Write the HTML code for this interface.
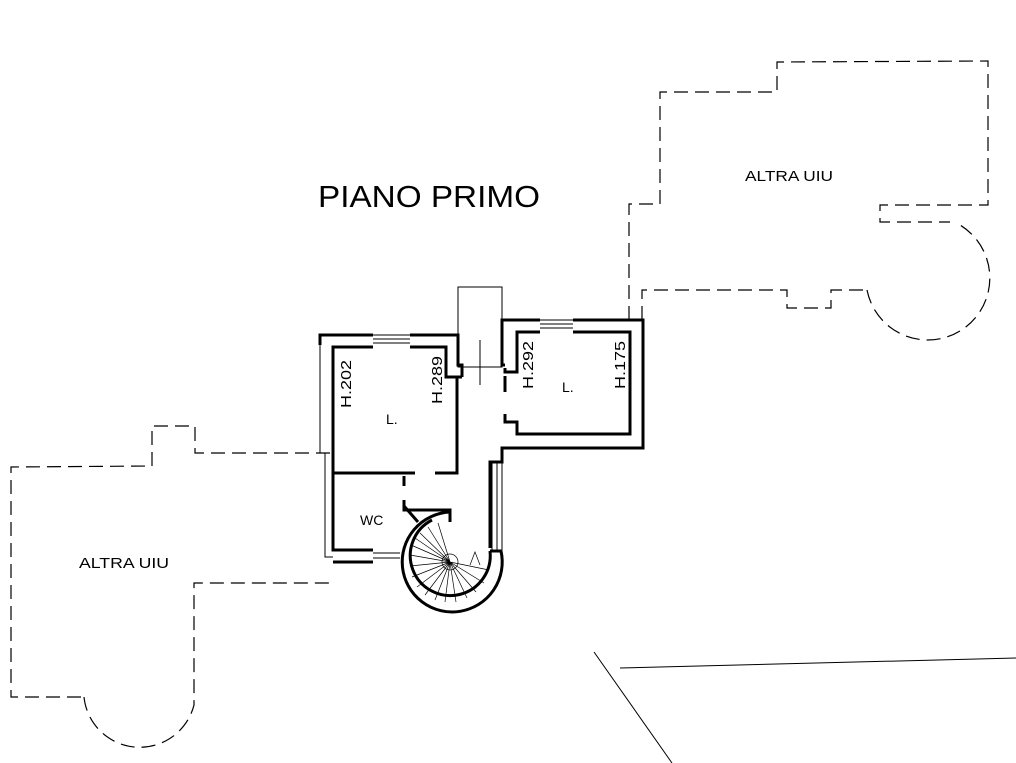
<!DOCTYPE html>
<html><head><style>
html,body{margin:0;padding:0;background:#fff;}
svg{display:block;}
text{font-family:"Liberation Sans",sans-serif;fill:#000;}
</style></head><body>
<svg width="1016" height="763" viewBox="0 0 1016 763" xmlns="http://www.w3.org/2000/svg">
<g fill="none" stroke="#000" stroke-width="1.2" stroke-dasharray="14,7">
<path d="M330,453 L195,453 L195,426 L152,426 L152,466 L11,467 L11,697 L84,697"/>
<path d="M84,697 A56,56 0 0 0 194,705 L194,583 L331,583"/>
<path d="M629,320 L629,204 L660,204 L660,92 L777,92 L777,62 L988,61 L988,205 L880,205 L880,222 L950,222"/>
<path d="M642,320 L642,290 L787,290 L787,308 L831,308 L831,290 L867,290"/>
<path d="M867,290 A62,62 0 1 0 960,225"/>
</g>
<g fill="none" stroke="#000" stroke-width="1">
<path d="M594,652 L672,763"/>
<path d="M620,668 L1016,658"/>
<rect x="458" y="287" width="44" height="80"/>
<line x1="480" y1="340" x2="480" y2="385"/>
<path d="M320,335 L320,453 L325,453 L325,557 L333,557"/>
<path d="M373,335 L410,335 M373,339 L410,339 M373,343 L410,343"/>
<path d="M540,320 L573,320 M540,324 L573,324 M540,328 L573,328"/>
<path d="M373,553 L400,553 M373,558 L400,558"/>
<path d="M492,462 L492,550 M497,462 L497,550 M502,462 L502,550"/>
</g>
<g fill="none" stroke="#000" stroke-width="3" stroke-linejoin="miter">
<path d="M373,335 L320,335 L320,345"/>
<path d="M410,335 L458,335 L458,365 L462,365 L462,377"/>
<path d="M373,347 L333,347 L333,550 L373,550"/>
<path d="M333,562 L373,562"/>
<path d="M410,347 L446,347 L446,377 L462,377"/>
<path d="M457,377 L457,473 L435,473"/>
<path d="M333,473 L415,473"/>
<path d="M404,476 L404,486"/>
<path d="M404,500 L404,510 L450,510 L450,522"/>
<path d="M404,506 L418,522"/>
<path d="M540,320 L502,320 L502,365 L505,365"/>
<path d="M573,320 L643,320 L643,448 L502,448 L502,462 L490,462 L490,548"/>
<path d="M540,332 L517,332 L517,372 L505,372 L505,368"/>
<path d="M505,376 L505,392"/>
<path d="M573,332 L630,332 L630,434 L517,434 L517,422 L505,422 L505,414"/>
<path d="M450,512 A50,50 0 1 0 501,551 L490,551"/>
<path d="M432,520 A40,40 0 1 0 490,551"/>
</g>
<g stroke="#000" stroke-width="0.7" fill="none">
<circle cx="450" cy="562" r="8"/>
<path d="M450,562 L411,545 M450,562 L410,555 M450,562 L410,566 M450,562 L412,577 M450,562 L417,587 M450,562 L425,595 M450,562 L435,600 M450,562 L445,602 M450,562 L456,602 M450,562 L467,598 M450,562 L476,592 M450,562 L484,583 M450,562 L489,570 M450,562 L420,533 M450,562 L428,527 M450,562 L438,523 M450,562 L415,538"/>
<path d="M470,565 L475,552 L480,565"/>
</g>
<text x="318" y="207" font-size="31" textLength="222" lengthAdjust="spacingAndGlyphs">PIANO PRIMO</text>
<text x="745" y="181" font-size="15" textLength="88" lengthAdjust="spacingAndGlyphs">ALTRA UIU</text>
<text x="79" y="568" font-size="15" textLength="90" lengthAdjust="spacingAndGlyphs">ALTRA UIU</text>
<text x="386" y="424" font-size="14">L.</text>
<text x="562" y="392" font-size="14">L.</text>
<text x="360" y="525" font-size="14">WC</text>
<g font-size="15">
<text transform="translate(351,408) rotate(-90)" textLength="48" lengthAdjust="spacingAndGlyphs">H.202</text>
<text transform="translate(442,404) rotate(-90)" textLength="48" lengthAdjust="spacingAndGlyphs">H.289</text>
<text transform="translate(533,389) rotate(-90)" textLength="48" lengthAdjust="spacingAndGlyphs">H.292</text>
<text transform="translate(625,389) rotate(-90)" textLength="48" lengthAdjust="spacingAndGlyphs">H.175</text>
</g>
</svg>
</body></html>
